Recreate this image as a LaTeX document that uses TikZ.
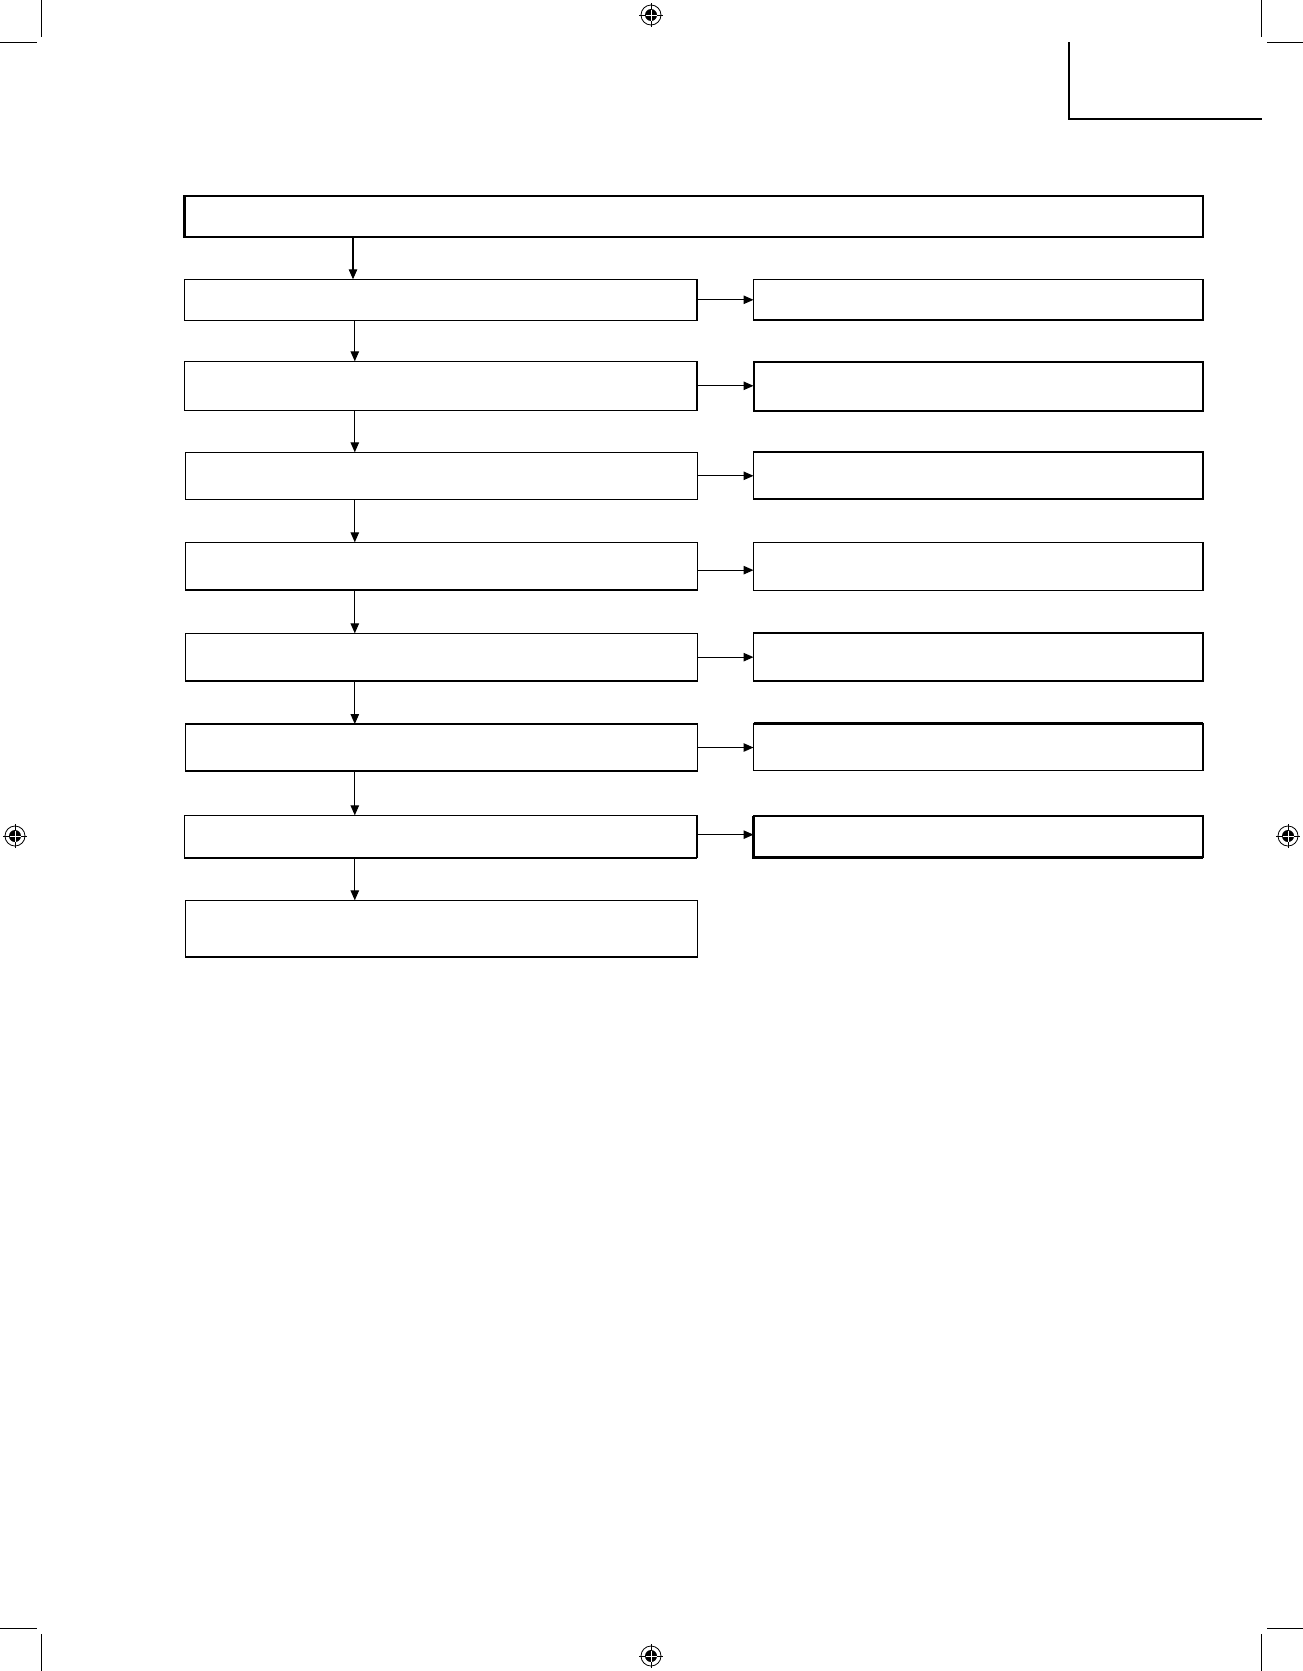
\documentclass[tikz,border=0pt]{standalone}
\usetikzlibrary{arrows.meta}
\begin{document}
\begin{tikzpicture}[x=1pt,y=-1pt,
  box/.style={draw=black,line width=1.3pt,rectangle,inner sep=0pt,outer sep=0pt,anchor=north west},
  arr/.style={draw=black,line width=1.1pt,-{Triangle[length=10pt,width=8.5pt]}},
  crop/.style={draw=black,line width=1pt},
  regmark/.pic={
    \draw[line width=0.8pt] (0,0) circle[radius=10];
    \fill[black] (0,0) circle[radius=6];
    \draw[line width=0.9pt] (-12,0) -- (12,0) (0,-12) -- (0,12);
    \draw[white,line width=0.9pt] (-5.5,0) -- (5.5,0) (0,-5.5) -- (0,5.5);
  }]
\fill[white] (0,0) rectangle (1303,1671);
\useasboundingbox (0,0) rectangle (1303,1671);

% crop marks
\draw[crop] (41.5,0) -- (41.5,37);
\draw[crop] (0,42.7) -- (37,42.7);
\draw[crop] (1261.5,0) -- (1261.5,37);
\draw[crop] (1267,42.7) -- (1303,42.7);
\draw[crop] (41.5,1634) -- (41.5,1671);
\draw[crop] (0,1628.3) -- (37,1628.3);
\draw[crop] (1261.5,1634) -- (1261.5,1671);
\draw[crop] (1267,1628.3) -- (1303,1628.3);

% registration marks
\pic at (651,15) {regmark};
\pic at (15,836) {regmark};
\pic at (1288,836) {regmark};
\pic at (651,1656) {regmark};

% corner bracket
\draw[line width=2pt] (1068.7,42) -- (1068.7,118.7) -- (1262,118.7);

% boxes
\node[box,line width=2.6pt,minimum width=1018.5pt,minimum height=41pt] (top) at (184.5,196) {};

\node[box,minimum width=512.5pt,minimum height=41pt]   (l1) at (184.5,279.3) {};
\node[box,minimum width=512.5pt,minimum height=49pt]   (l2) at (184.5,361.3) {};
\node[box,minimum width=512.5pt,minimum height=47pt]   (l3) at (185.3,452.3) {};
\node[box,minimum width=512.5pt,minimum height=47.7pt] (l4) at (185.3,542.3) {};
\node[box,minimum width=512.5pt,minimum height=47.7pt] (l5) at (185.3,633.3) {};
\node[box,minimum width=512.5pt,minimum height=47pt]   (l6) at (185.3,724) {};
\node[box,minimum width=512.5pt,minimum height=42.7pt] (l7) at (184.3,815.3) {};
\node[box,minimum width=512.5pt,minimum height=56.7pt] (l8) at (185.3,900.3) {};

\node[box,minimum width=449.5pt,minimum height=40.7pt] (r1) at (753.5,279.3) {};
\node[box,line width=2pt,minimum width=449.5pt,minimum height=49pt] (r2) at (753.5,362) {};
\node[box,minimum width=449.5pt,minimum height=47pt]   (r3) at (753.5,452) {};
\node[box,minimum width=449.5pt,minimum height=47.9pt] (r4) at (753.5,542.3) {};
\node[box,minimum width=449.5pt,minimum height=48pt]   (r5) at (753.5,633) {};
\node[box,minimum width=449.5pt,minimum height=47pt]   (r6) at (753.5,723.5) {};
\node[box,minimum width=449.5pt,minimum height=41.6pt] (r7) at (753.5,816) {};

% heavier edges
\draw[line width=2.2pt] (l1.north east) -- (l1.south east);
\draw[line width=2.2pt] (l2.north east) -- (l2.south east);
\draw[line width=2.4pt] (l6.north west) -- (l6.north east);
\draw[line width=2.4pt] (r6.north west) -- (r6.north east);
\draw[line width=2.2pt] (l7.north east) -- (l7.south east);
\draw[line width=2.4pt] (r7.north west) -- (r7.south west) -- (r7.south east);

% vertical connectors
\coordinate (xa) at (353,0);
\coordinate (xb) at (354.8,0);
\draw[arr] (top.south -| xa) -- (l1.north -| xa);
\draw[arr] (l1.south -| xb) -- (l2.north -| xb);
\draw[arr] (l2.south -| xb) -- (l3.north -| xb);
\draw[arr] (l3.south -| xb) -- (l4.north -| xb);
\draw[arr] (l4.south -| xb) -- (l5.north -| xb);
\draw[arr] (l5.south -| xb) -- (l6.north -| xb);
\draw[arr] (l6.south -| xb) -- (l7.north -| xb);
\draw[arr] (l7.south -| xb) -- (l8.north -| xb);

% horizontal connectors
\draw[arr] (l1.east) -- (l1.east -| r1.west);
\draw[arr] (l2.east) -- (l2.east -| r2.west);
\draw[arr] (l3.east) -- (l3.east -| r3.west);
\draw[arr] ([yshift=-4pt]l4.east) -- ([yshift=-4pt]l4.east -| r4.west);
\draw[arr] (l5.east) -- (l5.east -| r5.west);
\draw[arr] (l6.east) -- (l6.east -| r6.west);
\draw[arr] ([yshift=2pt]l7.east) -- ([yshift=2pt]l7.east -| r7.west);
\end{tikzpicture}
\end{document}
